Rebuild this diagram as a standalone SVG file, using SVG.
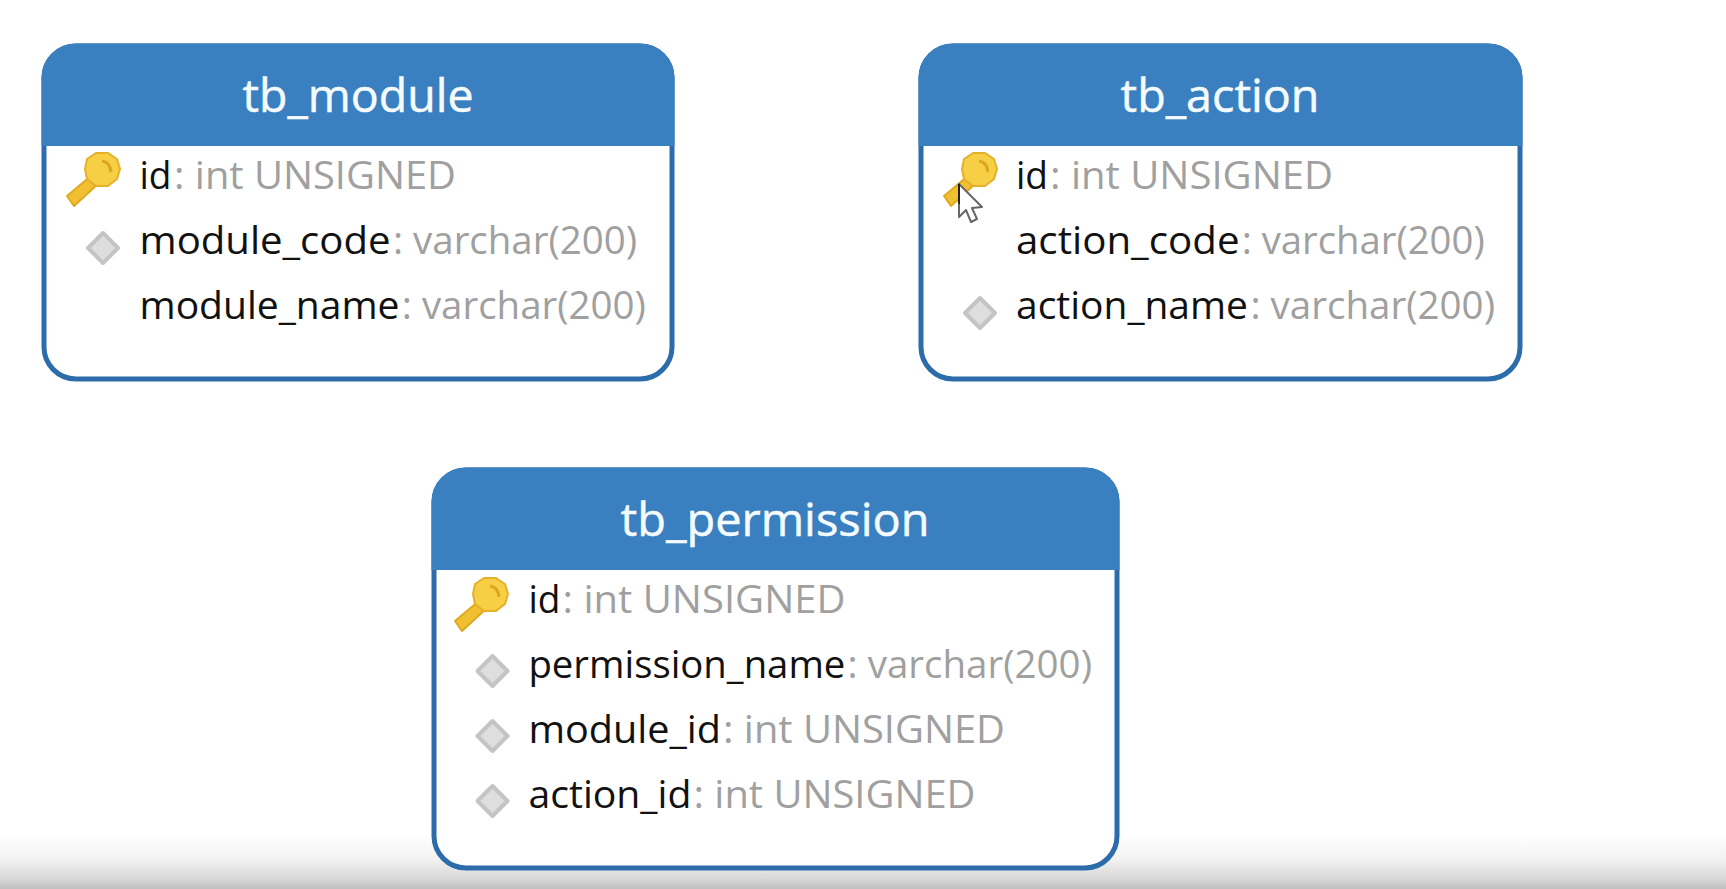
<svg xmlns="http://www.w3.org/2000/svg" width="1726" height="889" viewBox="0 0 1726 889">
<style>
text{font-family:"Open Sans","Noto Sans","Liberation Sans",sans-serif}
.title{font-size:45px;fill:#f4fbff;text-anchor:middle;stroke:#f4fbff;stroke-width:0.5px}
.row{font-size:38px;fill:#111}
.ty{fill:#a0a0a0}
.box{fill:#fff;stroke:#2c6cab;stroke-width:5}
.head{fill:#3a7fc0}
</style>
<defs>
<linearGradient id="fade" x1="0" y1="0" x2="0" y2="1"><stop offset="0" stop-color="#fff"/><stop offset="0.45" stop-color="#f2f2f2"/><stop offset="0.8" stop-color="#d8d8d8"/><stop offset="1" stop-color="#bfbfbf"/></linearGradient>
<filter id="soft" x="-10%" y="-10%" width="120%" height="120%"><feGaussianBlur stdDeviation="0.7"/></filter>
<g id="key" filter="url(#soft)">
<path d="M-10 5L-35 26L-28 36L-3 13Z" fill="#f0c030" stroke="#dfa91f" stroke-width="2" stroke-linejoin="round"/>
<path d="M-6 -17L6 -17L15 -11L18 -1L15 9L6 16L-6 16L-15 9L-17 -1L-15 -11Z" fill="#f7cf45" stroke="#e5b02a" stroke-width="2" stroke-linejoin="round"/>
<path d="M0 -9Q8 -8 9 2" fill="none" stroke="#dca522" stroke-width="3"/>
</g>
<path id="dia" d="M0 -15L15 0L0 15L-15 0Z" fill="#dedede" stroke="#c4c4c4" stroke-width="4" stroke-linejoin="round" filter="url(#soft)"/>
</defs>
<rect width="1726" height="889" fill="#fff"/>
<rect id="shade" x="0" y="835" width="1726" height="54" fill="url(#fade)"/>
<g id="connectors"/>
<g id="tb_module">
<rect class="box" x="44" y="46" width="628" height="333" rx="32"/>
<path class="head" d="M41.500 146V78A34 34 0 0 1 76 43.500H640A34 34 0 0 1 674.500 78V146Z"/>
<text class="title" x="358" y="112" textLength="231" lengthAdjust="spacingAndGlyphs">tb_module</text>
<use href="#key" x="102" y="170"/>
<use href="#dia" x="103" y="248"/>
<text class="row" y="189"><tspan x="139.500" textLength="32" lengthAdjust="spacingAndGlyphs">id</tspan><tspan class="ty" x="174" textLength="282" lengthAdjust="spacingAndGlyphs">: int UNSIGNED</tspan></text>
<text class="row" y="254"><tspan x="139.500" textLength="251" lengthAdjust="spacingAndGlyphs">module_code</tspan><tspan class="ty" x="393" textLength="244" lengthAdjust="spacingAndGlyphs">: varchar(200)</tspan></text>
<text class="row" y="319"><tspan x="139.500" textLength="260" lengthAdjust="spacingAndGlyphs">module_name</tspan><tspan class="ty" x="401.800" textLength="244" lengthAdjust="spacingAndGlyphs">: varchar(200)</tspan></text>
</g>
<g id="tb_action">
<rect class="box" x="921" y="46" width="599" height="333" rx="32"/>
<path class="head" d="M918.500 146V78A34 34 0 0 1 953 43.500H1488A34 34 0 0 1 1522.500 78V146Z"/>
<text class="title" x="1220" y="112" textLength="199" lengthAdjust="spacingAndGlyphs">tb_action</text>
<use href="#key" x="979" y="170"/>
<use href="#dia" x="980" y="313"/>
<text class="row" y="189"><tspan x="1016" textLength="32" lengthAdjust="spacingAndGlyphs">id</tspan><tspan class="ty" x="1050" textLength="283" lengthAdjust="spacingAndGlyphs">: int UNSIGNED</tspan></text>
<text class="row" y="254"><tspan x="1016" textLength="223.500" lengthAdjust="spacingAndGlyphs">action_code</tspan><tspan class="ty" x="1241.700" textLength="243" lengthAdjust="spacingAndGlyphs">: varchar(200)</tspan></text>
<text class="row" y="319"><tspan x="1016" textLength="232" lengthAdjust="spacingAndGlyphs">action_name</tspan><tspan class="ty" x="1250.500" textLength="244.500" lengthAdjust="spacingAndGlyphs">: varchar(200)</tspan></text>
<path d="M959 184V217L966 210L971 222L977 219L972 208L982 207Z" fill="#fff" stroke="#666" stroke-width="2" stroke-linejoin="round"/>
<path d="M959 184V204" stroke="#222" stroke-width="2"/>
</g>
<g id="tb_permission">
<rect class="box" x="434" y="470" width="683" height="398" rx="32"/>
<path class="head" d="M431.500 570V502A34 34 0 0 1 466 467.500H1085A34 34 0 0 1 1119.500 502V570Z"/>
<text class="title" x="775" y="536" textLength="309" lengthAdjust="spacingAndGlyphs">tb_permission</text>
<use href="#key" x="490" y="595"/>
<use href="#dia" x="492.500" y="671"/>
<use href="#dia" x="492.500" y="736"/>
<use href="#dia" x="492.500" y="801"/>
<text class="row" y="613"><tspan x="528.400" textLength="32" lengthAdjust="spacingAndGlyphs">id</tspan><tspan class="ty" x="562.500" textLength="283" lengthAdjust="spacingAndGlyphs">: int UNSIGNED</tspan></text>
<text class="row" y="678"><tspan x="528.400" textLength="317" lengthAdjust="spacingAndGlyphs">permission_name</tspan><tspan class="ty" x="847.600" textLength="244.400" lengthAdjust="spacingAndGlyphs">: varchar(200)</tspan></text>
<text class="row" y="743"><tspan x="528.400" textLength="192.600" lengthAdjust="spacingAndGlyphs">module_id</tspan><tspan class="ty" x="723" textLength="282" lengthAdjust="spacingAndGlyphs">: int UNSIGNED</tspan></text>
<text class="row" y="808"><tspan x="528.400" textLength="163" lengthAdjust="spacingAndGlyphs">action_id</tspan><tspan class="ty" x="693.500" textLength="282" lengthAdjust="spacingAndGlyphs">: int UNSIGNED</tspan></text>
</g>
</svg>
